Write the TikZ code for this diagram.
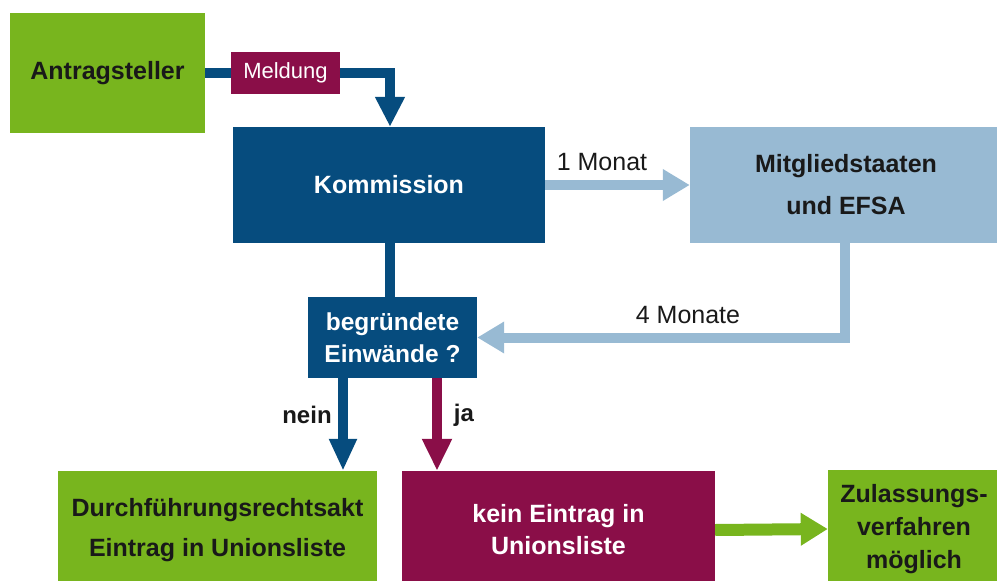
\documentclass[tikz,border=0pt]{standalone}
\usepackage{fontspec}
\setmainfont{Liberation Sans}
\usetikzlibrary{arrows.meta}

\definecolor{appgreen}{RGB}{120,181,30}
\definecolor{comblue}{RGB}{6,76,126}
\definecolor{paleblue}{RGB}{152,186,211}
\definecolor{wine}{RGB}{138,14,72}
\definecolor{inkgray}{RGB}{25,25,25}

\begin{document}
\begin{tikzpicture}[x=1pt, y=-1pt,
  box/.style={rectangle, inner sep=0pt, align=center,
    font=\bfseries\fontsize{25}{32}\selectfont},
  darktext/.style={text=inkgray},
  lighttext/.style={text=white},
  flow/.style={line width=10pt, line join=miter},
  headbig/.style={-{Triangle[width=28pt,length=30pt]}},
  headpale/.style={-{Triangle[width=30pt,length=27pt]}},
  label/.style={inner sep=0pt, text=inkgray, font=\fontsize{25}{30}\selectfont},
  boldlabel/.style={inner sep=0pt, text=inkgray, font=\bfseries\fontsize{24}{30}\selectfont}]

\useasboundingbox (0,0) rectangle (997,581);
\clip (0,0) rectangle (997,581);

% boxes
\node[box, darktext, fill=appgreen, minimum width=195pt, minimum height=120pt]
  (ant) at (107.5,73) {Antragsteller};
\node[box, lighttext, fill=wine, minimum width=109pt, minimum height=42pt,
  font=\fontsize{22}{26}\selectfont]
  (meld) at (285.5,73) {Meldung};
\node[box, lighttext, fill=comblue, minimum width=312pt, minimum height=116pt]
  (kom) at (389,185) {Kommission};
\node[box, darktext, fill=paleblue, minimum width=312pt, minimum height=116pt,
  font=\bfseries\fontsize{25}{42}\selectfont]
  (mit) at (846,185) {Mitgliedstaaten\\und EFSA};
\node[box, lighttext, fill=comblue, minimum width=169pt, minimum height=81pt,
  font=\bfseries\fontsize{24.5}{32}\selectfont]
  (ein) at (392.5,337.5) {begründete\\Einwände ?};
\node[box, darktext, fill=appgreen, minimum width=319pt, minimum height=118pt,
  font=\bfseries\fontsize{25}{40}\selectfont]
  (dfr) at (217.5,530) {Durchführungsrechtsakt\\Eintrag in Unionsliste};
\node[box, lighttext, fill=wine, minimum width=313pt, minimum height=118pt]
  (kein) at (558.5,530) {kein Eintrag in\\Unionsliste};
\node[box, darktext, fill=appgreen, minimum width=172pt, minimum height=118pt,
  font=\bfseries\fontsize{25}{33}\selectfont]
  (zul) at (914,529) {Zulassungs-\\verfahren\\möglich};

% x positions of the vertical connectors
\coordinate (kx) at (390,0);
\coordinate (mx) at (845,0);
\coordinate (neinx) at (343,0);
\coordinate (jax) at (437,0);

% connectors
\draw[flow, comblue] (ant.east) -- (meld.west);
\draw[flow, comblue, headbig] (meld.east) -| (kom.north -| kx);
\draw[flow, comblue] (kom.south -| kx) -- (ein.north -| kx);
\draw[flow, paleblue, headpale] (kom.east) -- (mit.west);
\draw[flow, paleblue, headpale] (mit.south -| mx) |- (ein.east);
\draw[flow, comblue, -{Triangle[width=26pt,length=32pt]}]
  (ein.south -| neinx) -- (dfr.north -| neinx);
\draw[flow, wine, -{Triangle[width=28pt,length=32pt]}]
  (ein.south -| jax) -- (kein.north -| jax);
\draw[line width=12pt, appgreen, -{Triangle[width=31pt,length=27pt]}]
  (kein.east) -- (zul.west);

% connector labels
\node[label] (lmonat) at (602,162) {1 Monat};
\node[label] (lmonate) at (688,315) {4 Monate};
\node[boldlabel] (lnein) at (307,415) {nein};
\node[boldlabel] (lja) at (464,415) {ja};

\end{tikzpicture}
\end{document}
